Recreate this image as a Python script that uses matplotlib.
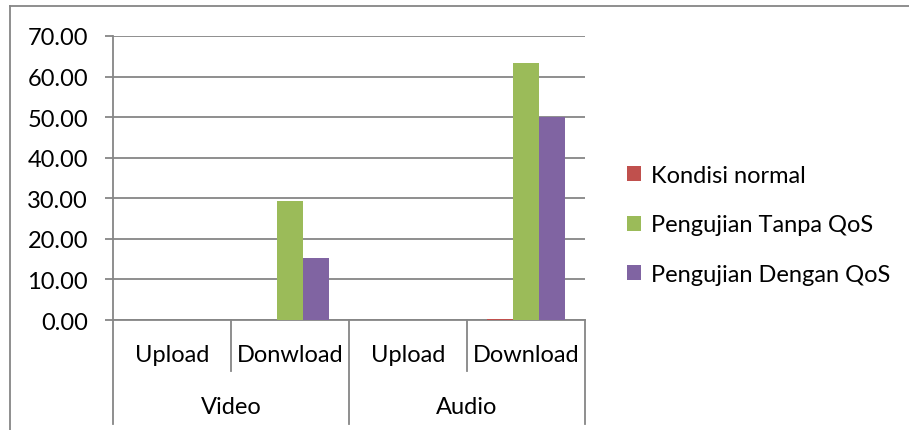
import numpy as np
import matplotlib
matplotlib.use("Agg")
import matplotlib.pyplot as plt
from matplotlib.lines import Line2D
from matplotlib.patches import Patch
import matplotlib.transforms as mtransforms

# data
subcats = ["Upload", "Donwload", "Upload", "Download"]
groups = ["Video", "Audio"]
series = ["Kondisi normal", "Pengujian Tanpa QoS", "Pengujian Dengan QoS"]
normal = [0.0, 0.0, 0.0, 0.2]
tanpa_qos = [0.0, 29.4, 0.0, 63.4]
dengan_qos = [0.0, 15.3, 0.0, 50.1]
colors = ["#C0504D", "#9BBB59", "#8064A2"]

plt.rcParams["font.family"] = ["Lato", "DejaVu Sans"]
W, H = 909, 431
fs = 17
fig = plt.figure(figsize=(W / 100, H / 100), dpi=100)
ax = fig.add_axes([113 / W, 1 - 321 / H, (585 - 113) / W, (321 - 37) / H])

gray = "#868686"
x = np.arange(len(subcats)) + 0.5
bw = 0.22
for i, (vals, c) in enumerate(zip([normal, tanpa_qos, dengan_qos], colors)):
    ax.bar(x + (i - 1) * bw, vals, width=bw, color=c, zorder=3)

ax.set_xlim(0, len(subcats))
ax.set_ylim(0, 70)
ax.set_yticks(np.arange(0, 71, 10))
ax.set_yticklabels(["%.2f" % v for v in np.arange(0, 71, 10)], fontsize=fs)
ax.yaxis.grid(True, color=gray, lw=1.3, zorder=0)
ax.tick_params(axis="y", length=6, width=1.3, color=gray, pad=12)
ax.set_xticks([])
for s in ["top", "right"]:
    ax.spines[s].set_visible(False)
for s in ["left", "bottom"]:
    ax.spines[s].set_color(gray)
    ax.spines[s].set_linewidth(1.3)

# multi-level category axis
tr = mtransforms.blended_transform_factory(ax.transData, ax.transAxes)
for b in range(len(subcats) + 1):
    bottom = -0.365 if b % 2 == 0 else -0.18
    ax.plot([b, b], [0, bottom], transform=tr, color=gray, lw=1.3, clip_on=False)
for i, lab in enumerate(subcats):
    ax.text(x[i], -0.12, lab, transform=tr, ha="center", va="center", fontsize=fs)
for g, lab in enumerate(groups):
    ax.text(2 * g + 1, -0.303, lab, transform=tr, ha="center", va="center", fontsize=fs)

# legend
handles = [Patch(facecolor=c, edgecolor="none") for c in colors]
fig.legend(handles, series, loc="center left", bbox_to_anchor=(606 / W, 1 - 226 / H),
           frameon=False, fontsize=fs, handlelength=0.6, handleheight=0.6,
           handletextpad=0.4, labelspacing=1.22)

# outer chart frame
fig.add_artist(Line2D([10 / W, 10 / W], [0, 1 - 7 / H], color=gray, lw=1.3))
fig.add_artist(Line2D([10 / W, 1], [1 - 7 / H, 1 - 7 / H], color=gray, lw=1.3))

fig.savefig("out.png", dpi=100)
